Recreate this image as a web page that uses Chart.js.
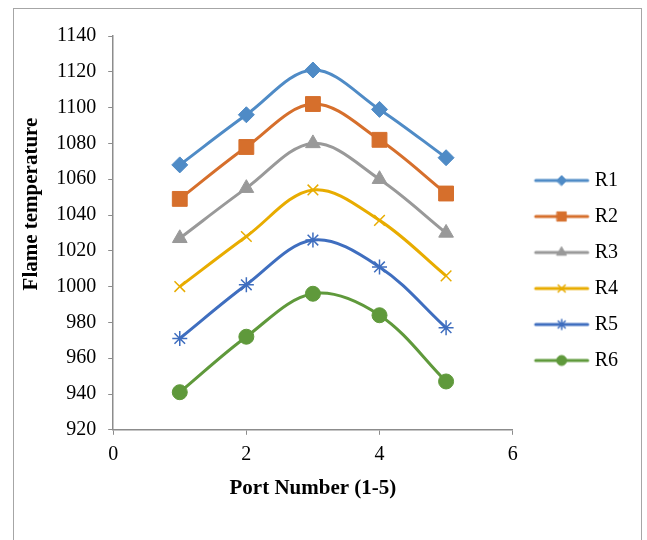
<!DOCTYPE html>
<html>
<head>
<meta charset="utf-8">
<script src="https://cdn.jsdelivr.net/npm/chart.js@4.4.1/dist/chart.umd.min.js"></script>
<style>
  html, body { margin: 0; padding: 0; background: #fff; }
  #frame { position: absolute; left: 13px; top: 8px; width: 629px; height: 540px;
           border: 1px solid #a6a6a6; border-bottom: none; box-sizing: border-box; }
  #wrap { position: absolute; left: 0; top: 0; width: 647px; height: 540px; }
</style>
</head>
<body>
<div id="frame"></div>
<div id="wrap"><canvas id="flameChart" width="647" height="540"></canvas></div>
<script>
// port numbers along the x axis
const ports = [1, 2, 3, 4, 5];

// flame temperature for each run
const r1 = [1068, 1096, 1121, 1099, 1072];
const r2 = [1049, 1078, 1102, 1082, 1052];
const r3 = [1027, 1055, 1080, 1060, 1030];
const r4 = [1000, 1028, 1054, 1037, 1006];
const r5 = [971, 1001, 1026, 1011, 977];
const r6 = [941, 972, 996, 984, 947];

const seriesNames = ["R1", "R2", "R3", "R4", "R5", "R6"];
const seriesValues = [r1, r2, r3, r4, r5, r6];
const seriesColors = ["#4f8bc6", "#d66f2c", "#999999", "#e8ac00", "#3f6ebf", "#5f993b"];
const seriesMarkers = ["rectRot", "rect", "triangle", "crossRot", "star", "circle"];
const markerSizes = [8, 10.5, 8.5, 7.5, 7.5, 7.5];
const legendMarkerSizes = [5, 6.5, 5.5, 5, 5, 5];

const serif = "'Liberation Serif', 'Times New Roman', serif";

// little picture for the legend: a line with the marker in the middle
function legendSwatch(i) {
  const c = document.createElement("canvas");
  c.width = 76;
  c.height = 18;
  const ctx = c.getContext("2d");
  ctx.strokeStyle = seriesColors[i];
  ctx.lineWidth = 3;
  ctx.lineCap = "round";
  ctx.beginPath();
  ctx.moveTo(17, 9);
  ctx.lineTo(69, 9);
  ctx.stroke();
  ctx.fillStyle = seriesColors[i];
  ctx.lineWidth = seriesMarkers[i] == "crossRot" || seriesMarkers[i] == "star" ? 1.5 : 1;
  Chart.helpers.drawPoint(ctx, {
    pointStyle: seriesMarkers[i],
    radius: legendMarkerSizes[i],
    rotation: 0,
    borderWidth: ctx.lineWidth
  }, 43, 9);
  return c;
}

const datasets = seriesNames.map((name, i) => ({
  label: name,
  data: ports.map((p, j) => ({ x: p, y: seriesValues[i][j] })),
  borderColor: seriesColors[i],
  backgroundColor: seriesColors[i],
  borderWidth: 3,
  showLine: true,
  tension: 0.35,
  pointStyle: seriesMarkers[i],
  pointRadius: markerSizes[i],
  pointBorderWidth: seriesMarkers[i] == "crossRot" || seriesMarkers[i] == "star" ? 1.5 : 1,
  pointBackgroundColor: seriesColors[i],
  pointBorderColor: seriesColors[i]
}));

const legendImages = seriesNames.map((n, i) => legendSwatch(i));

const flameChart = new Chart(document.getElementById("flameChart").getContext("2d"), {
  type: "scatter",
  data: { datasets: datasets },
  options: {
    responsive: false,
    animation: false,
    layout: { padding: { left: 15, top: 36, right: 19, bottom: 35 } },
    plugins: {
      tooltip: { enabled: false },
      legend: {
        position: "right",
        labels: {
          usePointStyle: true,
          pointStyleWidth: 56,
          padding: 16,
          color: "#000",
          font: { family: serif, size: 20 },
          generateLabels: (chart) => seriesNames.map((name, i) => ({
            text: name,
            datasetIndex: i,
            pointStyle: legendImages[i],
            fillStyle: seriesColors[i],
            strokeStyle: seriesColors[i],
            lineWidth: 0,
            hidden: false,
            fontColor: "#000"
          }))
        }
      }
    },
    scales: {
      x: {
        type: "linear",
        min: 0,
        max: 6,
        ticks: { stepSize: 2, color: "#000", font: { family: serif, size: 20 }, padding: 8 },
        grid: { drawOnChartArea: false, drawTicks: true, tickLength: 5, color: "#8c8c8c" },
        border: { color: "#8c8c8c", width: 1.5 },
        title: { display: true, text: "Port Number (1-5)", color: "#000",
                 font: { family: serif, size: 21, weight: "bold" }, padding: { top: 1 } }
      },
      y: {
        min: 920,
        max: 1140,
        ticks: { stepSize: 20, color: "#000", font: { family: serif, size: 20 }, padding: 12,
                 callback: (v) => String(v) },
        grid: { drawOnChartArea: false, drawTicks: true, tickLength: 5, color: "#8c8c8c" },
        border: { color: "#8c8c8c", width: 1.5 },
        // leading spaces push the title up the axis like in the original
        title: { display: true, text: "           Flame temperature", color: "#000",
                 font: { family: serif, size: 21, weight: "bold" }, padding: { bottom: 0 } }
      }
    }
  }
});
</script>
</body>
</html>
